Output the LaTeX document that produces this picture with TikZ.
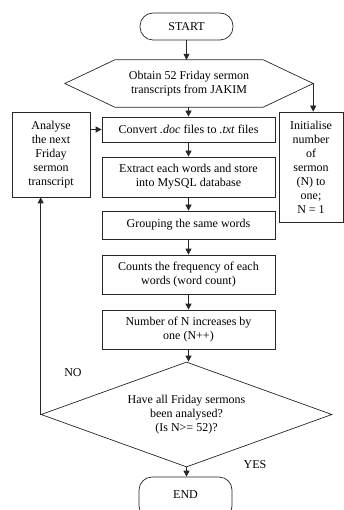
\documentclass[tikz,border=0pt]{standalone}
\usepackage{fontspec}
\setmainfont{Liberation Serif}
\usetikzlibrary{arrows.meta,shapes.geometric}
\begin{document}
\begin{tikzpicture}[x=1pt,y=-1pt,
  every node/.style={font=\fontsize{12}{14}\selectfont, inner sep=0pt, align=center},
  ln/.style={draw=black!85, line width=0.7pt},
  arr/.style={ln, -{Triangle[length=6pt,width=6pt]}},
  box/.style={ln, minimum width=173pt},
  term/.style={ln, rounded corners=13pt, minimum width=93pt},
  lbl/.style={font=\fontsize{12}{14}\selectfont}
]
\useasboundingbox (0,0) rectangle (344,510);
\node[term, minimum height=27pt] (start) at (186.5,26.5) {START};
\node[minimum width=248pt, minimum height=47pt] (obtain) at (189,83.5) {Obtain 52 Friday sermon\\transcripts from JAKIM};
\draw[ln] (obtain.west) -- ([xshift=50pt]obtain.north west) -- ([xshift=-50pt]obtain.north east)
  -- (obtain.east) -- ([xshift=-50pt]obtain.south east) -- ([xshift=50pt]obtain.south west) -- cycle;
\node[box, minimum height=25pt] (convert) at (188.5,129.5) {Convert \textit{.doc} files to \textit{.txt} files};
\node[box, minimum height=40pt] (extract) at (188.5,177) {Extract each words and store\\into MySQL database};
\node[box, minimum height=28pt] (group) at (188.5,225) {Grouping the same words};
\node[box, minimum height=39pt] (counts) at (188.5,274.5) {Counts the frequency of each\\words (word count)};
\node[box, minimum height=39pt] (number) at (188.5,329.5) {Number of N increases by\\one (N++)};
\node[ln, diamond, aspect=2.77, minimum width=291pt, minimum height=105pt] (decide) at (186.5,414.5) {Have all Friday sermons\\been analysed?\\(Is N>= 52)?};
\node[term, minimum height=42pt, text depth=0pt] (end) at (185.5,498) {\raisebox{6pt}{END}};
\node[ln, minimum width=78pt, minimum height=85pt] (analyse) at (51,154.5) {Analyse\\the next\\Friday\\sermon\\transcript};
\node[ln, minimum width=64pt, minimum height=110pt] (init) at (311,167) {Initialise\\number\\of\\sermon\\(N) to\\one;\\N = 1};
\node[lbl] (no) at (73,373) {NO};
\node[lbl] (yes) at (255,465) {YES};
\draw[arr] (start.south) -- (start.south |- obtain.north);
\draw[arr] (convert.north |- obtain.south) -- (convert.north);
\draw[arr] (convert) -- (extract);
\draw[arr] (extract) -- (group);
\draw[arr] (group) -- (counts);
\draw[arr] (counts) -- (number);
\draw[arr] (number.south) -- (number.south |- decide.north);
\draw[arr] (decide.south) -- (decide.south |- end.north);
\draw[arr] (obtain.east) -- (obtain.east |- init.north);
\draw[arr] (analyse.east |- convert.west) -- (convert.west);
\draw[arr] (decide.west) -- (decide.west |- analyse.south);
\end{tikzpicture}
\end{document}
